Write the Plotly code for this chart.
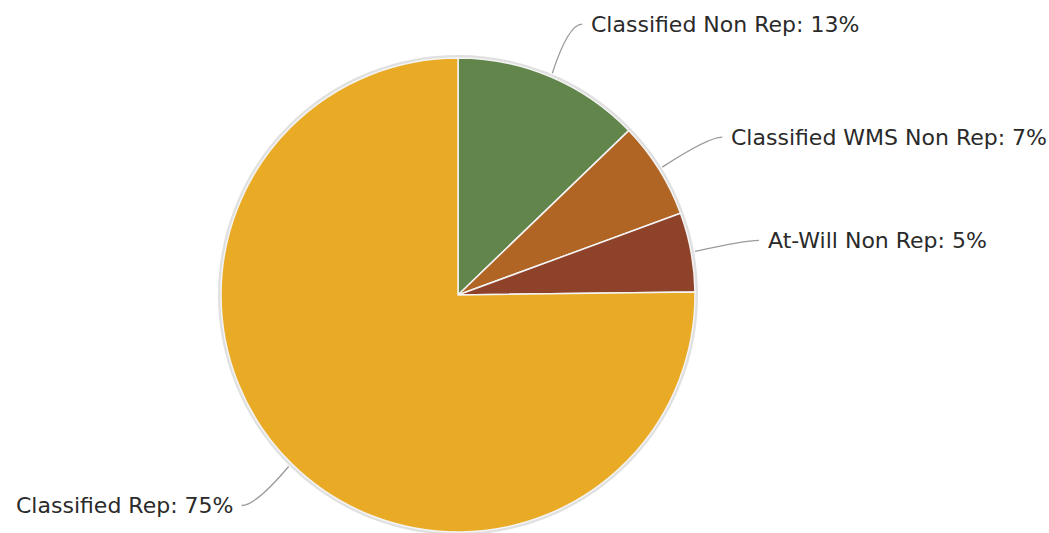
import math
import plotly.graph_objects as go

labels = ["Classified Non Rep", "Classified WMS Non Rep", "At-Will Non Rep", "Classified Rep"]
values = [12.8, 6.6, 5.4, 75.2]
colors = ["#61854b", "#b16525", "#8f422a", "#e9aa26"]
# label leader end offsets (px, relative to slice edge point) -- style only
label_offsets = [(30, -49), (60, -30), (64, -11), (-47, 39)]

W, H = 1049, 533
cx, cy, R = 458, 295, 237

def px(x):
    return x / W

def py(y):
    return 1 - y / H

fig = go.Figure(go.Pie(
    labels=labels, values=values, sort=False, direction="clockwise", rotation=0,
    marker=dict(colors=colors, line=dict(color="#f4f4f4", width=1.5)),
    textinfo="none", hoverinfo="label+percent", showlegend=False,
    domain=dict(x=[px(cx - R), px(cx + R)], y=[py(cy + R), py(cy - R)]),
))

shapes = [dict(type="circle", xref="paper", yref="paper",
               x0=px(cx - R - 1.5), x1=px(cx + R + 1.5), y0=py(cy + R + 1.5), y1=py(cy - R - 1.5),
               line=dict(color="rgba(0,0,0,0.12)", width=3), layer="below")]
annotations = []
total = sum(values)
cum = 0
for lab, v, (dx, dy) in zip(labels, values, label_offsets):
    mid = (cum + v / 2) / total * 2 * math.pi
    cum += v
    sx = cx + (R + 4) * math.sin(mid)
    sy = cy - (R + 4) * math.cos(mid)
    ex, ey = sx + dx, sy + dy
    side = 1 if dx > 0 else -1
    qx, qy = ex - 14 * side, ey
    path = f"M {px(sx)},{py(sy)} Q {px(qx)},{py(qy)} {px(ex)},{py(ey)}"
    shapes.append(dict(type="path", xref="paper", yref="paper", path=path,
                       line=dict(color="#9a9a9a", width=1.3)))
    pct = round(v / total * 100)
    annotations.append(dict(
        x=px(ex + 7 * side), y=py(ey), xref="paper", yref="paper",
        text=f"{lab}: {pct}%", showarrow=False,
        xanchor="left" if side > 0 else "right", yanchor="middle",
        font=dict(family="DejaVu Sans", size=22, color="#2a2a2a"),
    ))

fig.update_layout(
    width=W, height=H, margin=dict(l=0, r=0, t=0, b=0),
    paper_bgcolor="white", plot_bgcolor="white",
    shapes=shapes, annotations=annotations,
)
fig.write_html("out.html", config={"displayModeBar": False},
               post_script="document.body.style.margin='0';document.body.style.overflow='hidden';")
